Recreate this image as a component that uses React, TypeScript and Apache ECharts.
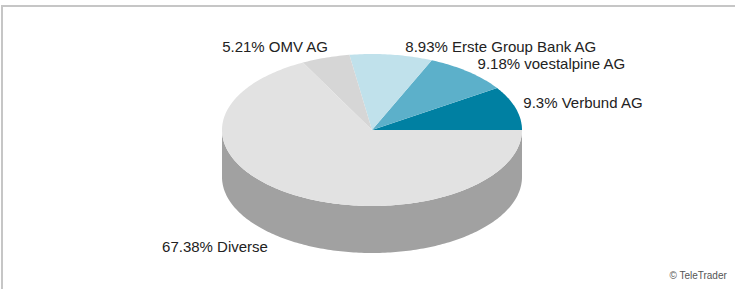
import React, { useEffect, useRef } from "react";
import * as echarts from "echarts";

const names = ["Verbund AG", "voestalpine AG", "Erste Group Bank AG", "OMV AG", "Diverse"];
const values = [9.3, 9.18, 8.93, 5.21, 67.38];
const topColors = ["#0080a2", "#5cb0ca", "#c0e1eb", "#d6d6d6", "#e2e2e2"];
const sideColors = ["#005f78", "#438ba1", "#95b5bf", "#aaaaaa", "#a1a1a1"];
// label nudges (layout only)
const labelNudgeX = [0, 4, 13, 5, -22];
const labelNudgeY = [-3, -2, 0, -4, -2];

const CX = 372, CY = 130, RX = 150, RY = 76, DEPTH = 47;

function pt(tDeg: number, dy = 0): number[] {
  const t = (tDeg * Math.PI) / 180;
  return [CX + RX * Math.cos(t), CY - RY * Math.sin(t) + dy];
}

function arc(a0: number, a1: number, dy = 0): number[][] {
  const pts: number[][] = [];
  const n = Math.max(2, Math.ceil(Math.abs(a1 - a0)));
  for (let i = 0; i <= n; i++) pts.push(pt(a0 + ((a1 - a0) * i) / n, dy));
  return pts;
}

export default function App() {
  const ref = useRef<HTMLDivElement>(null);
  useEffect(() => {
    if (!ref.current) return;
    const chart = echarts.init(ref.current, undefined, { renderer: "svg" });
    const total = values.reduce((a, b) => a + b, 0);
    const starts: number[] = [];
    let acc = 0;
    values.forEach((v) => {
      starts.push((acc / total) * 360);
      acc += v;
    });

    chart.setOption({
      animation: false,
      backgroundColor: "#ffffff",
      graphic: [
        {
          type: "rect",
          shape: { x: 2, y: 6, width: 800, height: 400 },
          style: { fill: "none", stroke: "#c6c6c6", lineWidth: 2 },
          silent: true,
        },
        {
          type: "text",
          right: 8,
          top: 270,
          style: {
            text: "© TeleTrader",
            fill: "#555555",
            font: "10px 'Liberation Sans', Arial, sans-serif",
          },
        },
      ],
      series: [
        {
          type: "custom",
          coordinateSystem: "none",
          data: values.map((v, i) => [i, v]),
          renderItem: (params: any) => {
            const i = params.dataIndex;
            const a0 = starts[i];
            const a1 = a0 + (values[i] / total) * 360;
            const children: any[] = [];
            if (a1 > 180) {
              const s = Math.max(a0, 180);
              const e = Math.min(a1, 360);
              const top = arc(s, e);
              const bottom = arc(e, s, DEPTH);
              children.push({
                type: "polygon",
                z2: 1,
                shape: { points: top.concat(bottom) },
                style: { fill: sideColors[i] },
              });
            }
            children.push({
              type: "polygon",
              z2: 5,
              shape: { points: [[CX, CY]].concat(arc(a0, a1)) },
              style: { fill: topColors[i] },
            });
            const mid = (a0 + a1) / 2;
            const mt = (mid * Math.PI) / 180;
            const sinT = Math.sin(mt);
            const cosT = Math.cos(mt);
            const ax = CX + (RX + 8) * cosT + labelNudgeX[i];
            const ay = CY - (RY + 8) * sinT + (sinT < 0 ? DEPTH : 0) + labelNudgeY[i];
            children.push({
              type: "text",
              z2: 10,
              x: ax,
              y: ay,
              style: {
                text: `${values[i]}% ${names[i]}`,
                fill: "#222222",
                font: "15px 'Liberation Sans', Arial, sans-serif",
                align: cosT >= 0 ? "left" : "right",
                verticalAlign: "middle",
              },
            });
            return { type: "group", children };
          },
        },
      ],
    });
    return () => chart.dispose();
  }, []);
  return (
    <div
      ref={ref}
      style={{ position: "fixed", left: 0, top: 0, width: 735, height: 289 }}
    />
  );
}
